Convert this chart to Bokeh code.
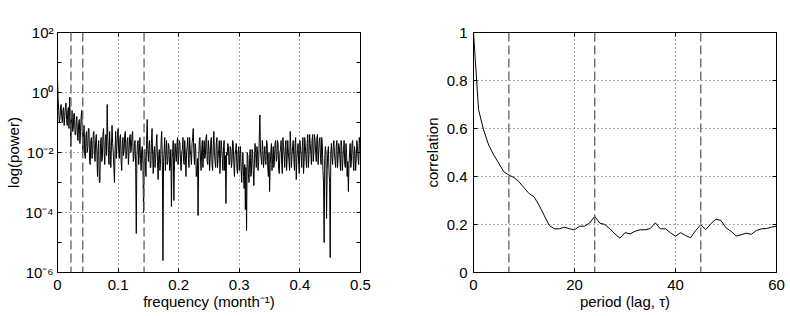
from bokeh.plotting import figure
from bokeh.models import FixedTicker, Span, LinearAxis, LogAxis, CustomJSTickFormatter
from bokeh.layouts import row
from bokeh.embed import file_html
from bokeh.resources import INLINE

# ---------------- data ----------------
periods = [7, 24, 45]

freq_step = 0.001
log10_power = [
    0.5, -0.2, -0.6, -1.0, -0.9, -0.5, -0.4, -0.8, -1.0, -0.6,
    -0.5, -1.1, -0.8, -0.5, -0.35, -0.9, -1.1, -0.6, -0.5, -1.2,
    -0.15, -0.8, -1.8, -1.0, -0.6, -1.3, -1.2, -0.7, -0.7, -1.4,
    -1.4, -0.9, -0.8, -1.5, -1.6, -1.0, -0.9, -1.7, -1.3, -0.8,
    -0.6, -1.5, -2.0, -1.2, -1.1, -2.1, -2.2, -1.4, -1.3, -2.0,
    -1.8, -1.2, -1.2, -2.3, -2.4, -1.6, -1.5, -2.2, -2.0, -1.4,
    -1.3, -2.1, -2.3, -1.6, -1.4, -2.0, -2.8, -1.9, -1.6, -3.0,
    -3.0, -1.7, -1.5, -2.3, -2.2, -1.4, -1.2, -2.0, -2.4, -1.6,
    -1.4, -2.1, -0.4, -1.5, -2.0, -2.4, -1.3, -1.9, -2.5, -1.8,
    -1.1, -1.7, -2.0, -2.5, -3.0, -1.9, -1.3, -2.2, -1.8, -1.4,
    -1.2, -2.0, -2.2, -1.5, -1.4, -2.3, -2.6, -1.7, -1.5, -2.1,
    -1.9, -1.4, -1.3, -2.2, -2.1, -1.6, -1.5, -2.4, -2.0, -1.5,
    -1.4, -2.0, -1.8, -1.4, -1.3, -2.3, -2.2, -1.7, -1.6, -2.5,
    -4.7, -2.1, -1.7, -1.6, -2.4, -2.0, -1.5, -2.2, -2.6, -1.9,
    -1.8, -2.4, -4.0, -2.2, -1.9, -2.3, -2.8, -1.6, -0.9, -1.9,
    -2.3, -1.8, -1.6, -2.5, -2.5, -1.7, -1.2, -2.1, -2.7, -2.0,
    -1.8, -2.5, -2.2, -1.7, -1.4, -2.3, -2.9, -2.1, -1.9, -2.6,
    -2.4, -1.6, -1.3, -2.2, -5.6, -2.3, -1.9, -1.5, -2.6, -2.0,
    -1.6, -2.4, -2.3, -1.7, -1.8, -2.6, -2.5, -1.9, -3.8, -2.2,
    -2.0, -1.6, -3.6, -2.4, -1.7, -2.0, -2.3, -1.8, -1.5, -2.4,
    -2.1, -1.6, -1.7, -2.3, -2.6, -2.0, -1.9, -1.5, -2.3, -2.4,
    -1.6, -2.1, -2.8, -2.0, -1.8, -1.5, -2.2, -2.5, -1.5, -1.9,
    -2.1, -2.4, -1.7, -1.5, -1.2, -2.0, -2.4, -1.7, -1.8, -2.8,
    -2.6, -2.2, -4.1, -2.3, -1.6, -1.5, -2.3, -2.6, -1.9, -1.6,
    -2.5, -2.0, -1.6, -2.2, -2.1, -1.5, -1.4, -2.3, -2.4, -1.6,
    -1.9, -2.6, -2.2, -1.6, -1.5, -2.4, -2.6, -1.8, -1.3, -2.0,
    -2.3, -2.5, -1.7, -1.5, -2.5, -2.2, -1.9, -1.6, -2.7, -2.2,
    -1.6, -1.9, -2.2, -2.6, -1.8, -1.6, -2.6, -2.1, -3.7, -2.0,
    -2.1, -1.7, -1.8, -2.4, -2.4, -1.8, -1.9, -2.5, -2.3, -1.6,
    -1.7, -2.4, -2.8, -2.1, -1.9, -1.7, -2.5, -2.7, -2.0, -1.8,
    -2.6, -2.1, -1.8, -2.6, -3.0, -2.3, -2.0, -2.8, -3.2, -2.4,
    -3.9, -2.5, -4.6, -2.0, -2.1, -2.7, -3.0, -2.2, -1.9, -2.8,
    -2.7, -1.9, -2.0, -2.6, -3.1, -2.2, -1.7, -2.0, -2.5, -1.8,
    -1.9, -2.6, -2.3, -1.5, -0.75, -2.0, -2.2, -2.4, -1.6, -1.9,
    -2.5, -2.1, -1.8, -2.3, -2.4, -1.6, -1.7, -2.5, -2.8, -2.0,
    -3.3, -2.4, -2.0, -1.7, -2.6, -2.2, -1.8, -2.5, -2.3, -1.7,
    -1.6, -2.3, -2.2, -1.6, -1.7, -2.6, -2.7, -2.0, -1.9, -1.6,
    -2.4, -2.7, -1.5, -1.8, -2.1, -2.5, -1.8, -1.6, -2.6, -2.2,
    -1.6, -2.0, -2.3, -2.6, -1.3, -1.8, -2.5, -2.1, -1.8, -1.6,
    -2.2, -2.6, -1.7, -1.5, -2.9, -2.2, -1.9, -1.7, -2.4, -2.7,
    -1.6, -1.9, -2.1, -2.5, -1.8, -1.5, -2.7, -2.3, -1.5, -1.8,
    -2.2, -2.5, -1.7, -1.4, -2.5, -2.1, -1.4, -1.7, -2.0, -2.4,
    -1.6, -1.4, -2.3, -2.0, -1.4, -1.6, -2.0, -2.3, -1.5, -1.4,
    -2.4, -2.0, -1.6, -1.5, -2.2, -2.4, -1.5, -1.7, -2.6, -3.0,
    -5.0, -2.2, -1.8, -2.0, -4.2, -2.6, -2.0, -1.8, -2.6, -3.0,
    -5.5, -2.0, -1.7, -2.2, -2.4, -1.8, -1.6, -2.0, -2.3, -2.5,
    -1.8, -1.6, -2.5, -2.2, -1.7, -1.8, -2.2, -2.6, -1.6, -1.8,
    -2.6, -2.2, -1.9, -1.6, -2.4, -2.5, -1.7, -2.0, -2.8, -2.3,
    -3.3, -2.4, -2.0, -1.7, -2.5, -2.3, -1.7, -1.6, -2.3, -2.6,
    -1.8, -2.0, -2.6, -2.2, -1.6, -1.8, -2.2, -2.4, -1.5, -1.7,
    -2.3,
]
freq = [i * freq_step for i in range(len(log10_power))]
power = [10 ** v for v in log10_power]

lags = list(range(61))
correlation = [
    1.0, 0.678, 0.594, 0.531, 0.49, 0.455, 0.42, 0.406, 0.396, 0.378,
    0.354, 0.329, 0.315, 0.28, 0.238, 0.196, 0.182, 0.182, 0.189, 0.182,
    0.178, 0.193, 0.193, 0.206, 0.234, 0.206, 0.2, 0.182, 0.161, 0.143,
    0.166, 0.161, 0.172, 0.178, 0.178, 0.183, 0.207, 0.182, 0.182, 0.166,
    0.151, 0.166, 0.154, 0.145, 0.175, 0.199, 0.179, 0.203, 0.222, 0.217,
    0.186, 0.172, 0.152, 0.157, 0.164, 0.159, 0.175, 0.182, 0.183, 0.189,
    0.193,
]

x1_ticks = [0, 0.1, 0.2, 0.3, 0.4, 0.5]
x1_labels = ["0", "0.1", "0.2", "0.3", "0.4", "0.5"]
y1_ticks = [1e-6, 1e-4, 1e-2, 1e0, 1e2]
y1_labels = ["10\u207b\u2076", "10\u207b\u2074", "10\u207b\u00b2", "10\u2070", "10\u00b2"]
y1_minor = [1e-5, 1e-3, 1e-1, 1e1]
x2_ticks = [0, 20, 40, 60]
x2_labels = ["0", "20", "40", "60"]
y2_ticks = [0, 0.2, 0.4, 0.6, 0.8, 1]
y2_labels = ["0", "0.2", "0.4", "0.6", "0.8", "1"]

FONT = "Liberation Sans"
FS = "15px"
blank = CustomJSTickFormatter(code="return ''")


def style_axis(ax, ticks, labels=None, minor=None):
    ax.ticker = FixedTicker(ticks=ticks, minor_ticks=minor or [])
    ax.major_tick_in = 4
    ax.major_tick_out = 0
    ax.minor_tick_in = 4 if minor else 0
    ax.minor_tick_out = 0
    ax.major_tick_line_color = "black"
    ax.minor_tick_line_color = "black" if minor else None
    ax.axis_line_color = "black"
    ax.major_label_text_font = FONT
    ax.major_label_text_font_size = FS
    ax.major_label_text_color = "black"
    ax.major_label_standoff = 6
    ax.axis_label_text_font = FONT
    ax.axis_label_text_font_size = FS
    ax.axis_label_text_font_style = "normal"
    ax.axis_label_text_color = "black"
    ax.axis_label_standoff = 0
    if labels is not None:
        ax.major_label_overrides = {t: l for t, l in zip(ticks, labels)}


def frame_axes(p, xticks, yticks, yminor=None, log=False):
    top = LinearAxis(formatter=blank)
    style_axis(top, xticks)
    top.major_label_standoff = 0
    p.add_layout(top, "above")
    right = LogAxis(formatter=blank) if log else LinearAxis(formatter=blank)
    style_axis(right, yticks, minor=yminor)
    right.major_label_standoff = 0
    p.add_layout(right, "right")


def style_fig(p):
    p.outline_line_color = "black"
    p.outline_line_width = 1
    p.outline_line_alpha = 1
    for g in (p.xgrid, p.ygrid):
        g.grid_line_color = "#555555"
        g.grid_line_dash = "1 3"
        g.grid_line_width = 1
    p.background_fill_color = "white"
    p.border_fill_color = "white"


# ---------------- left: power spectrum ----------------
p1 = figure(frame_width=303, frame_height=240, x_range=(0, 0.5), y_range=(1e-6, 1e2),
            y_axis_type="log", output_backend="svg", toolbar_location=None,
            min_border_left=57, min_border_right=40, min_border_top=32,
            min_border_bottom=44)
style_fig(p1)
style_axis(p1.xaxis[0], x1_ticks, x1_labels)
style_axis(p1.yaxis[0], y1_ticks, y1_labels, minor=y1_minor)
p1.xaxis[0].major_label_standoff = 7
p1.yaxis[0].major_label_standoff = 4
p1.yaxis[0].axis_label_standoff = 0
p1.xaxis[0].axis_label = "frequency (month\u207b\u00b9)"
p1.yaxis[0].axis_label = "log(power)"
frame_axes(p1, x1_ticks, y1_ticks, yminor=y1_minor, log=True)

p1.line(freq, power, line_color="black", line_width=1.0)
for per in periods:
    p1.add_layout(Span(location=1.0 / per, dimension="height", line_color="#6a6a6a",
                       line_dash="9 4", line_width=1.4))

# ---------------- right: autocorrelation ----------------
p2 = figure(frame_width=303, frame_height=240, x_range=(0, 60), y_range=(0, 1),
            output_backend="svg", toolbar_location=None,
            min_border_left=73, min_border_right=14, min_border_top=32,
            min_border_bottom=44)
style_fig(p2)
style_axis(p2.xaxis[0], x2_ticks, x2_labels)
style_axis(p2.yaxis[0], y2_ticks, y2_labels)
p2.xaxis[0].major_label_standoff = 7
p2.yaxis[0].major_label_standoff = 6
p2.yaxis[0].axis_label_standoff = 3
p2.xaxis[0].axis_label = "period (lag, \u03c4)"
p2.yaxis[0].axis_label = "correlation"
frame_axes(p2, x2_ticks, y2_ticks)

p2.line(lags, correlation, line_color="black", line_width=1)
for per in periods:
    p2.add_layout(Span(location=per, dimension="height", line_color="#6a6a6a",
                       line_dash="9 4", line_width=1.4))

layout = row(p1, p2)
open("out.html", "w").write(file_html(layout, INLINE))
